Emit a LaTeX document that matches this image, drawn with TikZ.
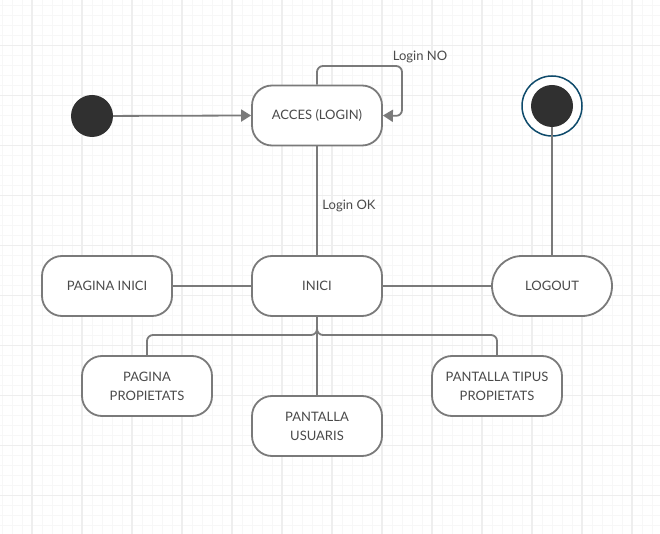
\documentclass[tikz,border=0pt]{standalone}
\usepackage{fontspec}
\setmainfont{Lato}
\usetikzlibrary{arrows.meta}
\definecolor{ln}{HTML}{7A7A7A}
\definecolor{tx}{HTML}{4A4A4A}
\definecolor{gmin}{HTML}{F7F7F7}
\definecolor{gmaj}{HTML}{EEEEEE}
\definecolor{ring}{HTML}{0E4A6B}
\definecolor{dot}{HTML}{303030}
\begin{document}
\begin{tikzpicture}[x=1pt,y=-1pt,
  state/.style={draw=ln, line width=1.8pt, fill=white, rounded corners=20pt,
    minimum width=130pt, minimum height=60pt, align=center, text=tx,
    font=\fontsize{13}{19}\selectfont, inner sep=2pt},
  conn/.style={draw=ln, line width=1.8pt},
  arr/.style={conn, -{Triangle[length=10pt,width=12pt]}},
  lbl/.style={text=tx, font=\fontsize{13}{15}\selectfont, inner sep=1pt}]
\useasboundingbox (0,0) rectangle (660,534);
\fill[white] (0,0) rectangle (660,534);
\foreach \x in {2,12,...,652} \draw[gmin, line width=1pt] (\x,0) -- (\x,534);
\foreach \y in {5.5,15.5,...,530} \draw[gmin, line width=1pt] (0,\y) -- (660,\y);
\foreach \x in {32,82,...,632} \draw[gmaj, line width=1.2pt] (\x,0) -- (\x,534);
\foreach \y in {45.5,95.5,...,530} \draw[gmaj, line width=1.2pt] (0,\y) -- (660,\y);

\node[circle, fill=dot, minimum size=42pt, inner sep=0pt] (start) at (92,116) {};
\node[state] (acces) at (317,115.5) {ACCES (LOGIN)};
\node[circle, draw=ring, line width=1.5pt, fill=white, minimum size=60pt, inner sep=0pt] (endo) at (552,106) {};
\node[circle, fill=dot, minimum size=42pt, inner sep=0pt] (endi) at (552,106) {};
\node[state] (inici) at (317,286) {INICI};
\node[state] (pinici) at (107,286) {PAGINA INICI};
\node[state, rounded corners=30pt, minimum width=120pt] (logout) at (552,286) {LOGOUT};
\node[state] (pprop) at (147,386) {PAGINA\\PROPIETATS};
\node[state] (pusu) at (317,426) {PANTALLA\\USUARIS};
\node[state] (ptipus) at (497,386) {PANTALLA TIPUS\\PROPIETATS};

\coordinate (lp1) at (317,66);
\coordinate (lp2) at (402,66);
\coordinate (lp3) at (402,116);
\coordinate (j) at (317,335);

\draw[arr] (start) -- (acces.west);
\draw[arr, rounded corners=6pt] (acces.north) -- (lp1) -- (lp2) -- (lp3) -- (acces.east);
\node[lbl] (lno) at (420,57) {Login NO};
\draw[conn] (acces.south) -- (inici.north);
\node[lbl] (lok) at (349,206) {Login OK};
\draw[conn] (endi.south) -- (logout.north);
\draw[conn] (pinici.east) -- (inici.west);
\draw[conn] (inici.east) -- (logout.west);
\draw[conn, rounded corners=6pt] (inici.south) -- (j) -| (pprop.north);
\draw[conn, rounded corners=6pt] (inici.south) -- (j) -| (ptipus.north);
\draw[conn] (inici.south) -- (pusu.north);
\end{tikzpicture}
\end{document}
